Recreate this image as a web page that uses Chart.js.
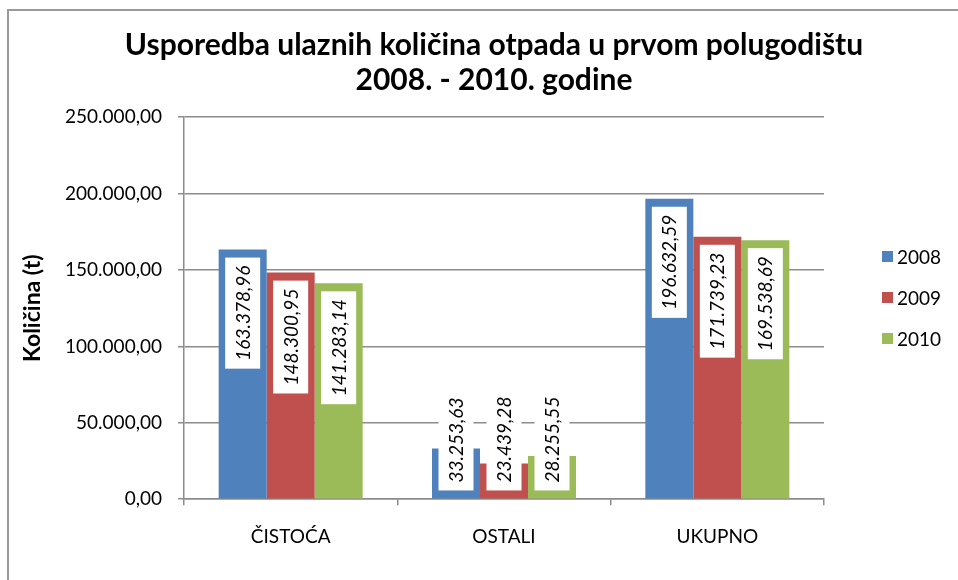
<!DOCTYPE html>
<html>
<head>
<meta charset="utf-8">
<title>Usporedba ulaznih količina otpada</title>
<script src="https://cdn.jsdelivr.net/npm/chart.js@4.4.1/dist/chart.umd.min.js"></script>
<style>
	html, body { margin: 0; padding: 0; overflow: hidden; background: #fff; }
	#okvir { position: absolute; left: 0; top: 0; width: 958px; height: 580px; overflow: hidden; }
	#rub { position: absolute; left: 7px; top: 9px; width: 1100px; height: 700px; border: 2px solid #9a9a9a; }
	#graficoOtpad { position: absolute; left: 0; top: 0; }
	#legenda { position: absolute; left: 882px; top: 236px; font: 19px Lato, sans-serif; color: #000; }
	#legenda .stavka { height: 41px; display: flex; align-items: center; }
	#legenda .kvadrat { width: 11px; height: 11px; margin-right: 4px; }
</style>
</head>
<body>
<div id="okvir">
	<div id="rub"></div>
	<canvas id="graficoOtpad" width="988" height="580"></canvas>
	<div id="legenda"></div>
</div>
<script>
var kategorije = ['ČISTOĆA', 'OSTALI', 'UKUPNO'];
var godine = ['2008', '2009', '2010'];
var kolicine2008 = [163378.96, 33253.63, 196632.59];
var kolicine2009 = [148300.95, 23439.28, 171739.23];
var kolicine2010 = [141283.14, 28255.55, 169538.69];
var oznakeOsiY = [0, 50000, 100000, 150000, 200000, 250000];
var boje = ['#4F81BD', '#C0504D', '#9BBB59'];

var Otpad = Otpad || {};

Otpad.formatBroj = function(v) {
	var dijelovi = v.toFixed(2).split('.');
	var cijeli = dijelovi[0].replace(/\B(?=(\d{3})+(?!\d))/g, '.');
	return cijeli + ',' + dijelovi[1];
};

// bijele kucice s okomitim vrijednostima unutar stupaca
Otpad.etiketePlugin = {
	id: 'etikete',
	afterDatasetsDraw: function(chart) {
		var ctx = chart.ctx;
		ctx.save();
		ctx.font = 'italic 19px Lato';
		chart.data.datasets.forEach(function(ds, i) {
			var meta = chart.getDatasetMeta(i);
			meta.data.forEach(function(bar, j) {
				var tekst = Otpad.formatBroj(ds.data[j]);
				var visina = ctx.measureText(tekst).width + 16;
				var sirina = 35;
				var vrh = bar.y + 8;
				if (vrh + visina > bar.base - 8) {
					vrh = bar.base - 8 - visina;
				}
				ctx.fillStyle = '#ffffff';
				ctx.fillRect(bar.x - sirina / 2, vrh, sirina, visina);
				ctx.save();
				ctx.translate(bar.x, vrh + visina / 2);
				ctx.rotate(-Math.PI / 2);
				ctx.fillStyle = '#000000';
				ctx.textAlign = 'center';
				ctx.textBaseline = 'middle';
				ctx.fillText(tekst, 0, 1);
				ctx.restore();
			});
		});
		ctx.restore();
	}
};

Otpad.Grafikon = (function() {

	function Grafikon() {
		this.ctx = document.getElementById('graficoOtpad').getContext('2d');
		this.legenda = document.getElementById('legenda');
	}

	Grafikon.prototype.iniciar = function() {
		var serije = [kolicine2008, kolicine2009, kolicine2010];
		var datasets = godine.map(function(godina, i) {
			return {
				label: godina,
				backgroundColor: boje[i],
				data: serije[i],
				categoryPercentage: 0.675,
				barPercentage: 1
			};
		});

		var siva = '#8c8c8c';

		this.grafikon = new Chart(this.ctx, {
			type: 'bar',
			data: {
				labels: kategorije,
				datasets: datasets
			},
			options: {
				responsive: false,
				animation: false,
				layout: { padding: { left: 14, right: 14, top: 0, bottom: 12 } },
				font: { family: 'Lato' },
				plugins: {
					legend: { display: false },
					tooltip: { enabled: false },
					title: {
						display: true,
						text: ['Usporedba ulaznih količina otpada u prvom polugodištu', '2008. - 2010. godine'],
						color: '#000',
						font: { family: 'Lato', size: 30, weight: 'bold', lineHeight: 1.17 },
						padding: { top: 28, bottom: 19 }
					}
				},
				scales: {
					x: {
						grid: { display: true, drawOnChartArea: false, tickLength: 6, color: siva, lineWidth: 1.5, offset: true },
						border: { display: true, color: siva, width: 1.5 },
						ticks: { color: '#000', padding: 20, font: { family: 'Lato', size: 19 } }
					},
					y: {
						min: 0,
						max: 250000,
						afterBuildTicks: function(scale) {
							scale.ticks = oznakeOsiY.map(function(v) { return { value: v }; });
						},
						afterFit: function(scale) { scale.width = 170; },
						grid: { color: siva, lineWidth: 1.5, tickLength: 6 },
						border: { display: true, color: siva, width: 1.5 },
						ticks: {
							color: '#000',
							padding: 16,
							font: { family: 'Lato', size: 19 },
							callback: function(v) { return Otpad.formatBroj(v); }
						},
						title: {
							display: true,
							text: 'Količina (t)',
							color: '#000',
							font: { family: 'Lato', size: 23, weight: 'bold', lineHeight: 1.2 },
							padding: { top: 5, bottom: 0 }
						}
					},
					razmak: {
						type: 'linear',
						position: 'right',
						display: true,
						grid: { display: false },
						border: { display: false },
						ticks: { display: false },
						afterFit: function(scale) { scale.width = 150; }
					}
				}
			},
			plugins: [Otpad.etiketePlugin]
		});

		this.nacrtajLegendu(datasets);
	};

	Grafikon.prototype.nacrtajLegendu = function(datasets) {
		var legenda = this.legenda;
		datasets.forEach(function(ds) {
			var stavka = document.createElement('div');
			stavka.className = 'stavka';
			var kvadrat = document.createElement('span');
			kvadrat.className = 'kvadrat';
			kvadrat.style.background = ds.backgroundColor;
			var tekst = document.createElement('span');
			tekst.textContent = ds.label;
			stavka.appendChild(kvadrat);
			stavka.appendChild(tekst);
			legenda.appendChild(stavka);
		});
	};

	return Grafikon;
}());

window.addEventListener('load', function() {
	var grafikon = new Otpad.Grafikon();
	grafikon.iniciar();
});
</script>
</body>
</html>
